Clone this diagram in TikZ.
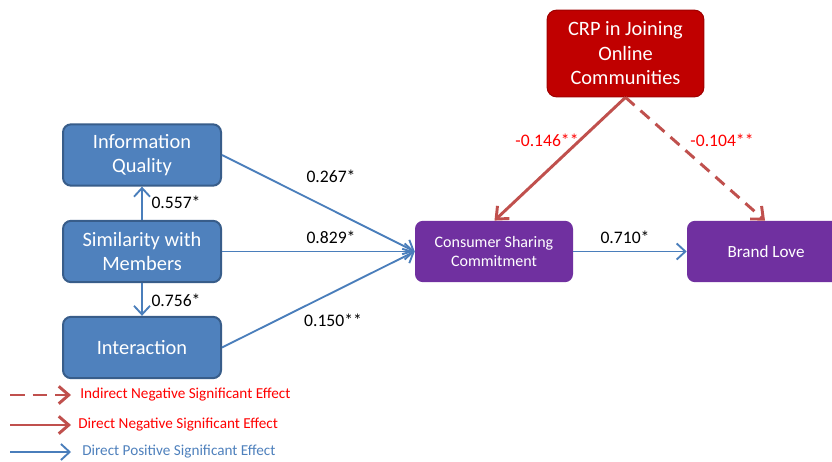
\documentclass[tikz,border=0pt]{standalone}
\usepackage{fontspec}
\setmainfont{Carlito}
\usetikzlibrary{arrows.meta}
\definecolor{bfill}{HTML}{4F81BD}
\definecolor{bdraw}{HTML}{385D8A}
\definecolor{pfill}{HTML}{7030A0}
\definecolor{rfill}{HTML}{C00000}
\definecolor{rdraw}{HTML}{A00000}
\definecolor{barrow}{HTML}{4A7EBB}
\definecolor{rarrow}{HTML}{C0504D}
\definecolor{redtxt}{HTML}{FF0000}
\tikzset{
  bluebox/.style={draw=bdraw, line width=1.5pt, fill=bfill, rounded corners=6pt, minimum width=118.5pt, minimum height=46pt, text=white, align=center, font=\fontsize{15.3}{18.4}\selectfont, inner sep=0pt},
  purplebox/.style={fill=pfill, rounded corners=6pt, minimum width=118.5pt, minimum height=46pt, text=white, align=center, font=\fontsize{12}{14.5}\selectfont, inner sep=0pt},
  redbox/.style={draw=rdraw, line width=0.8pt, fill=rfill, rounded corners=7pt, minimum width=117.5pt, minimum height=65pt, text=white, align=center, font=\fontsize{15.3}{18.4}\selectfont, inner sep=0pt},
  posarrow/.style={draw=barrow, line width=1.4pt, -{Straight Barb[length=6.5pt, width=12pt, line width=1.4pt]}},
  negarrow/.style={draw=rarrow, line width=2.2pt, -{Straight Barb[length=7.5pt, width=13pt, line width=2.2pt]}},
  negdashed/.style={negarrow, dash pattern=on 9pt off 6pt},
  coef/.style={font=\fontsize{13.2}{15}\selectfont, text=black, inner sep=0pt},
  negcoef/.style={coef, text=redtxt},
  legtext/.style={font=\fontsize{11.4}{13}\selectfont, anchor=west, inner sep=0pt}
}
\begin{document}
\begin{tikzpicture}[x=0.75pt, y=-0.75pt]
\clip (0,0) rectangle (832,461);
\fill[white] (0,0) rectangle (832,461);
% nodes
\node[bluebox] (iq) at (142,155) {Information\\Quality};
\node[bluebox] (sim) at (142,251.5) {Similarity with\\Members};
\node[bluebox] (int) at (142,347.5) {Interaction};
\node[purplebox] (csc) at (494,251.5) {Consumer Sharing\\Commitment};
\node[purplebox, font=\fontsize{12.8}{15}\selectfont] (bl) at (766,251.5) {Brand Love};
\node[redbox] (crp) at (625.5,53.5) {CRP in Joining\\Online\\Communities};
% connectors
\draw[posarrow] (iq.east) -- (csc.west);
\draw[posarrow] (sim.east) -- (csc.west);
\draw[posarrow] (int.east) -- (csc.west);
\draw[posarrow] (sim.north) -- (iq.south);
\draw[posarrow] (sim.south) -- (int.north);
\draw[posarrow] (csc.east) -- (bl.west);
\draw[negarrow] (crp.south) -- ([xshift=0.5*0.75pt]csc.north);
\draw[negdashed] (crp.south) -- ([xshift=-1*0.75pt]bl.north);
% labels
\node[coef] (l1) at (331,176) {0.267*};
\node[coef] (l2) at (331,237) {0.829*};
\node[coef] (l3) at (333,320) {0.150**};
\node[coef] (l4) at (176,202) {0.557*};
\node[coef] (l5) at (176,300) {0.756*};
\node[coef] (l6) at (625,237) {0.710*};
\node[negcoef] (l7) at (547,140) {-0.146**};
\node[negcoef] (l8) at (722,140) {-0.104**};
% legend
\coordinate (a1) at (10,395); \coordinate (b1) at (71,395);
\coordinate (a2) at (10,425); \coordinate (b2) at (71,425);
\coordinate (a3) at (10,452); \coordinate (b3) at (71,452);
\draw[negdashed, dash pattern=on 11pt off 6pt] (a1) -- (b1);
\draw[negarrow] (a2) -- (b2);
\draw[posarrow] (a3) -- (b3);
\node[legtext, text=redtxt] (t1) at (80,395) {Indirect Negative Significant Effect};
\node[legtext, text=redtxt] (t2) at (78,425) {Direct Negative Significant Effect};
\node[legtext, text=bfill] (t3) at (82,452) {Direct Positive Significant Effect};
\end{tikzpicture}
\end{document}
